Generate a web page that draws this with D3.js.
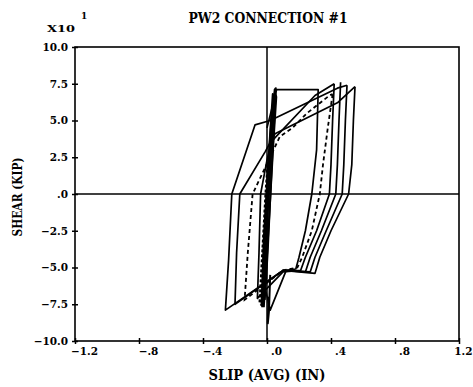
<!DOCTYPE html>
<html>
<head>
<meta charset="utf-8">
<script src="https://cdn.jsdelivr.net/npm/d3@7"></script>
<style>
  body { margin: 0; background: #fff; }
  text { font-family: 'DejaVu Serif', serif; font-weight: bold; fill: #000; }
</style>
</head>
<body>
<svg id="chart"></svg>
<script>
// tick values and their printed labels
const xTicks = [-1.2, -0.8, -0.4, 0, 0.4, 0.8, 1.2];
const xTickLabels = ['\u22121.2', '\u2212.8', '\u2212.4', '.0', '.4', '.8', '1.2'];
const yTicks = [-10, -7.5, -5, -2.5, 0, 2.5, 5, 7.5, 10];
const yTickLabels = ['\u221210.0', '\u22127.5', '\u22125.0', '\u22122.5', '.0', '2.5', '5.0', '7.5', '10.0'];

// slip (in), shear (x10 kip)
const loopA = [[0.00, 4.5], [0.06, 7.1], [0.32, 7.1], [0.31, 3.0], [0.28, 0.0], [0.24, -2.5],
  [0.20, -4.3], [0.18, -5.1], [0.12, -5.2], [0.02, -7.9], [-0.01, -6.5]];
const loopDashed = [[0.41, 6.8], [0.38, 4.5], [0.35, 2.0], [0.33, 0.0], [0.28, -2.5], [0.22, -4.3],
  [0.19, -5.0], [0.10, -5.2], [-0.14, -7.2], [-0.12, -4.0], [-0.09, 0.0], [0.08, 3.9],
  [0.16, 4.5], [0.25, 5.5], [0.39, 6.7], [0.41, 6.8]];
const cycle1 = [[0.42, 7.5], [0.41, 5.0], [0.40, 2.0], [0.39, 0.0], [0.31, -2.5], [0.24, -4.3],
  [0.21, -5.2], [0.10, -5.3], [-0.06, -7.1], [-0.05, -4.0], [-0.04, 0.0], [0.00, 2.3],
  [0.03, 3.6], [0.30, 6.7], [0.42, 7.5]];
const cycle2 = [[0.46, 7.6], [0.45, 5.0], [0.44, 2.0], [0.43, 0.0], [0.34, -2.5], [0.27, -4.3],
  [0.24, -5.3], [0.10, -5.2], [-0.20, -7.5], [-0.19, -4.0], [-0.17, 0.0], [-0.01, 2.9],
  [0.05, 4.1], [0.44, 6.2], [0.55, 7.3]];
const cycle3 = [[0.55, 7.3], [0.54, 5.0], [0.53, 2.0], [0.51, 0.0], [0.40, -2.5], [0.33, -4.3],
  [0.30, -5.4], [0.10, -5.2], [-0.26, -7.9], [-0.24, -4.5], [-0.22, 0.0], [-0.075, 4.7],
  [0.02, 5.0], [0.44, 7.2], [0.50, 7.4]];
const cycle4 = [[0.50, 7.4], [0.49, 5.0], [0.48, 2.0], [0.47, 0.0], [0.37, -2.5], [0.30, -4.3],
  [0.27, -5.3], [0.12, -5.2]];
const band1 = [[-0.030, -7.7], [-0.012, -3.5], [0.012, 1.5], [0.040, 5.8], [0.055, 7.2], [0.048, 7.1],
  [0.030, 4.0], [0.004, -1.0], [-0.018, -5.5], [-0.026, -7.6]];
const band2 = [[-0.025, -7.3], [-0.004, -2.5], [0.020, 2.5], [0.045, 6.5], [0.050, 6.9], [0.036, 5.0],
  [0.008, 0.0], [-0.016, -5.0], [-0.030, -7.5]];
const band3 = [[-0.020, -6.8], [0.000, -2.0], [0.025, 3.0], [0.046, 6.2], [0.040, 6.0], [0.018, 2.0],
  [-0.005, -3.0], [-0.022, -6.8]];
const band4 = [[0.010, -7.0], [0.005, -8.8], [0.012, -8.0], [0.020, -5.5]];
const band5 = [[-0.034, -7.5], [-0.020, -3.0], [0.002, 1.0], [0.030, 5.5], [0.050, 7.0], [0.058, 6.6],
  [0.040, 3.5], [0.014, -1.5], [-0.010, -6.0], [-0.020, -7.7]];
const band6 = [[-0.028, -7.0], [-0.008, -1.5], [0.016, 3.5], [0.036, 6.8], [0.052, 6.4], [0.028, 1.5],
  [0.004, -4.0], [-0.014, -7.2]];
const bandDashed = [[0.005, 2.0], [-0.008, 0.0], [-0.045, -7.4], [-0.03, -7.6]];

const solidLines = [loopA, cycle1, cycle2, cycle3, cycle4];
const bandLines = [band1, band2, band3, band4, band5, band6];

const width = 473, height = 387;
const plotLeft = 75, plotRight = 459, plotTop = 47, plotBottom = 341;

let svg = d3.select('#chart').attr('width', width).attr('height', height);

let x = d3.scaleLinear().domain([-1.2, 1.2]).range([plotLeft, plotRight]);
let y = d3.scaleLinear().domain([-10, 10]).range([plotBottom, plotTop]);

// axes
let xAxis = svg
  .append('g')
  .attr('transform', 'translate(0,' + plotBottom + ')')
  .call(d3.axisBottom(x).tickValues(xTicks).tickSize(3).tickPadding(4)
    .tickFormat((d, i) => xTickLabels[i]));
xAxis.select('.domain').remove();
xAxis.selectAll('line').attr('y1', -3).attr('y2', 3).attr('stroke', '#000').attr('stroke-width', 1.5);
xAxis.selectAll('text')
  .attr('dx', (d, i) => (i === xTicks.length - 1 ? 0 : 9))
  .attr('text-anchor', (d, i) => (i === xTicks.length - 1 ? 'end' : 'middle'))
  .attr('x', (d, i) => (i === xTicks.length - 1 ? 472 - x(d) : 0))
  .style('font-size', '10.5px');
xAxis.attr('font-family', null);

let yAxis = svg
  .append('g')
  .attr('transform', 'translate(' + plotLeft + ',0)')
  .call(d3.axisLeft(y).tickValues(yTicks).tickSize(3).tickPadding(4)
    .tickFormat((d, i) => yTickLabels[i]));
yAxis.select('.domain').remove();
yAxis.selectAll('line').attr('x1', -3).attr('x2', 3).attr('stroke', '#000').attr('stroke-width', 1.5);
yAxis.selectAll('text').style('font-size', '10.5px');
yAxis.attr('font-family', null);

// frame and zero lines
svg.append('rect')
  .attr('x', plotLeft).attr('y', plotTop)
  .attr('width', plotRight - plotLeft).attr('height', plotBottom - plotTop)
  .attr('fill', 'none').attr('stroke', '#000').attr('stroke-width', 1.6);
svg.append('line')
  .attr('x1', plotLeft).attr('x2', plotRight).attr('y1', y(0)).attr('y2', y(0))
  .attr('stroke', '#000').attr('stroke-width', 1.5);
svg.append('line')
  .attr('x1', x(0)).attr('x2', x(0)).attr('y1', plotTop).attr('y2', plotBottom)
  .attr('stroke', '#000').attr('stroke-width', 1.5);

// loops
let line = d3.line().x(d => x(d[0])).y(d => y(d[1]));

svg.append('g')
  .selectAll('path')
  .data(solidLines)
  .enter()
  .append('path')
  .attr('d', line)
  .attr('fill', 'none')
  .attr('stroke', '#000')
  .attr('stroke-width', 1.7)
  .attr('stroke-linejoin', 'round');

// the dense band of small cycles round zero
svg.append('g')
  .selectAll('path')
  .data(bandLines)
  .enter()
  .append('path')
  .attr('d', line)
  .attr('fill', 'none')
  .attr('stroke', '#000')
  .attr('stroke-width', 2)
  .attr('stroke-linejoin', 'round');

svg.append('g')
  .selectAll('path')
  .data([loopDashed, bandDashed])
  .enter()
  .append('path')
  .attr('d', line)
  .attr('fill', 'none')
  .attr('stroke', '#000')
  .attr('stroke-width', (d, i) => (i === 0 ? 1.8 : 2.6))
  .attr('stroke-dasharray', (d, i) => (i === 0 ? '4,3' : '3,2'));

// titles
svg.append('text')
  .attr('x', 268).attr('y', 23)
  .attr('text-anchor', 'middle')
  .attr('textLength', 159).attr('lengthAdjust', 'spacingAndGlyphs')
  .style('font-size', '14px')
  .text('PW2 CONNECTION #1');

svg.append('text')
  .attr('x', 267).attr('y', 380)
  .attr('text-anchor', 'middle')
  .attr('textLength', 117).attr('lengthAdjust', 'spacingAndGlyphs')
  .style('font-size', '14px')
  .text('SLIP (AVG) (IN)');

svg.append('text')
  .attr('transform', 'translate(22,197) rotate(-90)')
  .attr('text-anchor', 'middle')
  .attr('textLength', 79).attr('lengthAdjust', 'spacingAndGlyphs')
  .style('font-size', '13px')
  .text('SHEAR (KIP)');

svg.append('text')
  .attr('x', 47).attr('y', 32)
  .attr('textLength', 28).attr('lengthAdjust', 'spacingAndGlyphs')
  .style('font-size', '10px')
  .text('X10');
svg.append('text')
  .attr('x', 81).attr('y', 19)
  .style('font-size', '9px')
  .text('1');
</script>
</body>
</html>
